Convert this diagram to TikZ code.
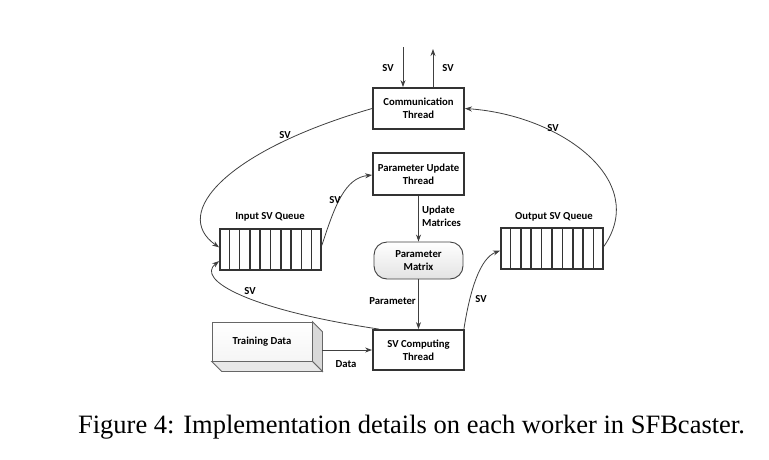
\documentclass[tikz,border=0pt]{standalone}
\usepackage{fontspec}
\setmainfont{Liberation Serif}
\newfontfamily\carl{Carlito}
\usetikzlibrary{arrows.meta,calc}
\newcommand\lbl{\carl\bfseries\fontsize{10.7}{13}\selectfont}
\definecolor{boxc}{HTML}{333333}
\definecolor{linec}{HTML}{404040}
\begin{document}
\begin{tikzpicture}[x=1pt,y=-1pt,
  box/.style={draw=boxc, line width=1.8pt, minimum width=91pt, minimum height=41pt, align=center, font=\lbl, fill=white, inner sep=0pt},
  queue/.style={draw=boxc, line width=1.8pt, minimum width=101pt, minimum height=41pt, inner sep=0pt},
  cell/.style={draw=boxc, line width=1.6pt},
  conn/.style={draw=linec, line width=0.8pt, -{Stealth[length=7pt,width=5pt]}},
  lab/.style={font=\lbl, text=black, inner sep=1pt, align=left}]
\useasboundingbox (0,0) rectangle (769,459);
% nodes
\node[box] (comm) at (418.5,108.5) {Communication\\Thread};
\node[box, minimum height=42pt] (pu) at (418.5,174) {Parameter Update\\Thread};
\node[draw=linec, line width=0.9pt, rounded corners=13pt, minimum width=89pt, minimum height=37pt, top color=white, bottom color=gray!22, align=center, font=\lbl, inner sep=0pt] (pm) at (418.5,260.5) {Parameter\\Matrix};
\node[box, minimum height=40pt] (svc) at (418.5,350) {SV Computing\\Thread};
\node[queue] (inq) at (270.5,249.5) {};
\node[queue, minimum width=102pt] (outq) at (552,248.5) {};
\foreach \q in {inq,outq}{
  \foreach \i in {1,...,9}{
    \draw[cell] ($(\q.north west)!\i/10!(\q.north east)$) -- ($(\q.south west)!\i/10!(\q.south east)$);
  }
}
\node[lab] (inql) at (270,217) {Input SV Queue};
\node[lab] (outql) at (554,217) {Output SV Queue};
% training data 3D box
\node[draw=gray!80!black, line width=0.8pt, minimum width=100pt, minimum height=39pt, top color=white, bottom color=gray!8, font=\lbl, inner sep=0pt] (td) at (262,341.5) {Training Data};
\fill[gray!30, draw=gray!80!black, line width=0.8pt] (td.north east) -- ++(10,10) -- ($(td.south east)+(10,10)$) -- (td.south east) -- cycle;
\fill[gray!18, draw=gray!80!black, line width=0.8pt] (td.south west) -- (td.south east) -- ++(10,10) -- ($(td.south west)+(10,10)$) -- cycle;
\coordinate (tdr) at ($(td.east)+(10,0)$);
% top arrows
\coordinate (inTop) at (403,47);
\coordinate (outTop) at (433,49);
\draw[conn] (inTop) -- (inTop |- comm.north);
\draw[conn] (outTop |- comm.north) -- (outTop);
\node[lab] (l1) at (388,68) {SV};
\node[lab] (l2) at (448,68) {SV};
% vertical arrows
\draw[conn] (pu.south) -- (pm.north);
\draw[conn] (pm.south) -- (svc.north);
\node[lab, anchor=west] (l3) at (421,216) {Update\\Matrices};
\node[lab, anchor=east] (l4) at (417,301) {Parameter};
% data arrow
\draw[conn] (tdr |- svc.west) -- (svc.west);
\node[lab] (l5) at (346,364) {Data};
% curves
\coordinate (inqA) at ($(inq.north west)!0.45!(inq.south west)$);
\coordinate (inqB) at ($(inq.north west)!0.77!(inq.south west)$);
\coordinate (inqR) at ($(inq.north east)!0.4!(inq.south east)$);
\coordinate (outqL) at ($(outq.north west)!0.55!(outq.south west)$);
\coordinate (outqR) at ($(outq.north east)!0.45!(outq.south east)$);
\coordinate (svcA) at ($(svc.north west)+(7,0)$);
\coordinate (svcB) at ($(svc.north east)+(-1,0)$);
\draw[conn] (comm.west) .. controls (228,150) and (170,213) .. (inqA);
\node[lab] (l6) at (285,135) {SV};
\draw[conn] (svcA) .. controls (250,310) and (195,280) .. (inqB);
\node[lab] (l7) at (250,291) {SV};
\draw[conn] (inqR) .. controls (335,205) and (345,178) .. ($(pu.west)+(0,1)$);
\node[lab] (l8) at (335,200) {SV};
\draw[conn] (svcB) .. controls (470,290) and (480,258) .. (outqL);
\node[lab] (l9) at (481,299) {SV};
\draw[conn] (outqR) .. controls (650,180) and (560,115) .. (comm.east);
\node[lab] (l10) at (553,128) {SV};
% caption
\node[font=\fontsize{26.5}{30}\selectfont, inner sep=0pt] (cap) at (411.5,427) {Figure 4: Implementation details on each worker in SFBcaster.};
\end{tikzpicture}
\end{document}
